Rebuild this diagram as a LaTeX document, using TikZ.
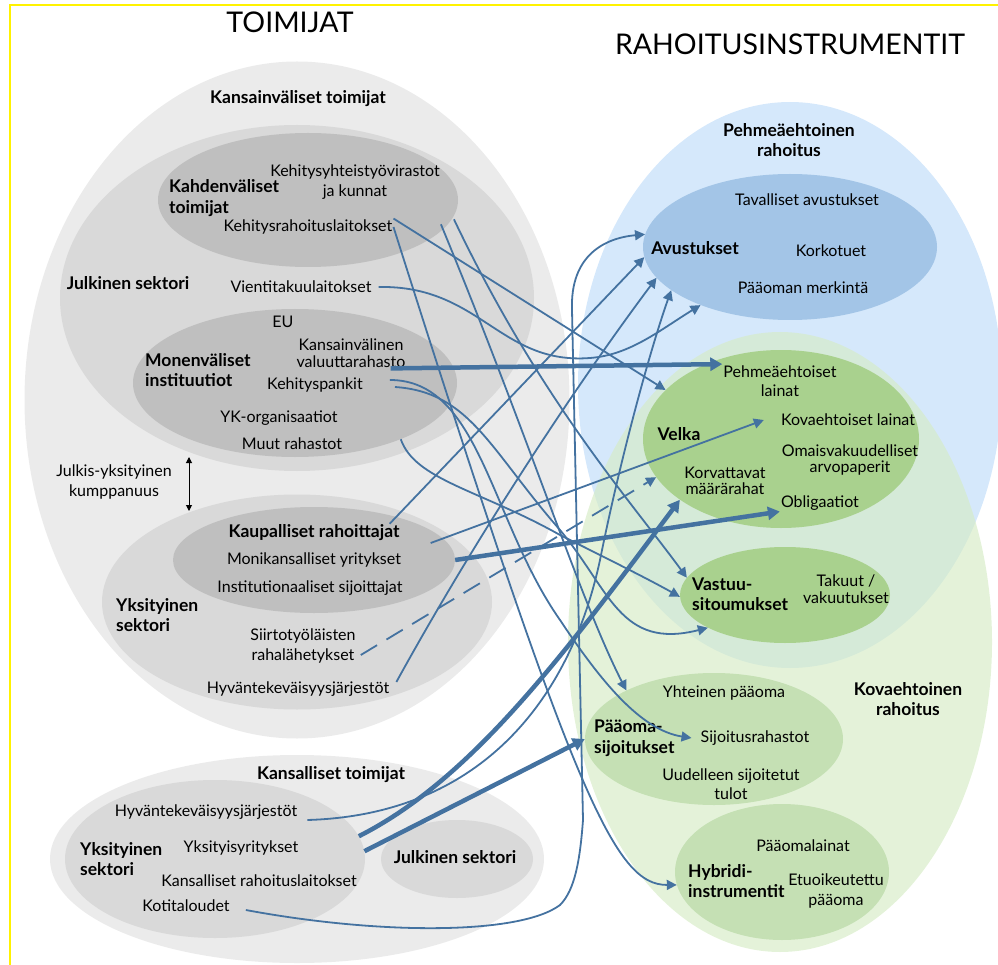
\documentclass[tikz,border=0pt]{standalone}
\usepackage{fontspec}
\setmainfont{Lato}
\usetikzlibrary{arrows.meta,shapes.geometric}

\definecolor{gouter}{HTML}{EBEBEB}
\definecolor{gmid}{HTML}{D9D9D9}
\definecolor{gdark}{HTML}{BFBFBF}
\definecolor{softbg}{HTML}{D5E8FB}
\definecolor{hardbg}{RGB}{214,236,198}
\definecolor{grantbg}{HTML}{A3C5E7}
\definecolor{debtbg}{HTML}{A9D18E}
\definecolor{eqbg}{HTML}{C5E0B4}
\definecolor{flowc}{RGB}{68,114,160}

\begin{document}
\begin{tikzpicture}[x=1pt, y=-1pt,
    blob/.style={ellipse, inner sep=0pt},
    txt/.style={font=\fontsize{16}{19.5}\selectfont, align=center, inner sep=1pt},
    hd/.style={font=\bfseries\fontsize{17.5}{20.5}\selectfont, align=left, inner sep=1pt},
    flow/.style={draw=flowc, line width=1.8pt, -{Triangle[length=10pt,width=10pt]}},
    bigflow/.style={flow, line width=4.5pt, -{Triangle[length=12pt,width=13pt]}},
    dashflow/.style={flow, dash pattern=on 19pt off 11pt}]
\useasboundingbox (0,0) rectangle (998,965);
\draw[yellow, line width=2.2pt] (10,965) -- (10,5) -- (998,5);

% actors
\node[blob, fill=gouter, minimum width=545pt, minimum height=677pt] (intl) at (297,400) {};
\node[blob, fill=gmid, minimum width=474pt, minimum height=346pt] (pub) at (297,298) {};
\node[blob, fill=gdark, minimum width=300pt, minimum height=134pt] (bil) at (308,200) {};
\node[blob, fill=gdark, minimum width=324pt, minimum height=148pt] (multi) at (295,383) {};
\node[blob, fill=gmid, minimum width=390pt, minimum height=215pt] (priv) at (297,602) {};
\node[blob, fill=gdark, minimum width=282pt, minimum height=106pt] (comm) at (314,560) {};
\node[blob, fill=gouter, minimum width=494pt, minimum height=208pt] (natl) at (297,859) {};
\node[blob, fill=gmid, minimum width=300pt, minimum height=158pt] (nprv) at (215,859) {};
\node[blob, fill=gmid, minimum width=152pt, minimum height=78pt] (npub) at (457,859) {};

% instruments
\node[blob, fill=softbg, minimum width=424pt, minimum height=566pt] (soft) at (790,385) {};
\node[blob, fill=hardbg, fill opacity=0.66, minimum width=424pt, minimum height=620pt] (hard) at (780,642) {};
\node[blob, fill=grantbg, minimum width=294pt, minimum height=146pt] (grant) at (790,247) {};
\node[blob, fill=debtbg, minimum width=276pt, minimum height=178pt] (debt) at (781,439) {};
\node[blob, fill=debtbg, minimum width=210pt, minimum height=96pt] (guar) at (785,595) {};
\node[blob, fill=eqbg, minimum width=258pt, minimum height=132pt] (eq) at (714,739) {};
\node[blob, fill=eqbg, minimum width=214pt, minimum height=136pt] (hyb) at (782,872) {};

% titles
\node[font=\fontsize{28.5}{32}\selectfont] (ttl-act) at (290,22) {TOIMIJAT};
\node[font=\fontsize{28.5}{32}\selectfont] (ttl-ins) at (790,44) {RAHOITUSINSTRUMENTIT};

% actor texts
\node[hd, align=center] (intl-t) at (298,99) {Kansainväliset toimijat};
\node[hd, anchor=west] (bil-t) at (168,198) {Kahdenväliset\\toimijat};
\node[txt] (agency) at (355,182) {Kehitysyhteistyövirastot\\ja kunnat};
\node[txt] (dfi) at (308,227) {Kehitysrahoituslaitokset};
\node[hd] (pub-t) at (128,283) {Julkinen sektori};
\node[txt] (eca) at (301,287) {Vientitakuulaitokset};
\node[txt] (eu) at (283,322) {EU};
\node[hd, anchor=west] (multi-t) at (144,370) {Monenväliset\\instituutiot};
\node[txt] (imf) at (351,353) {Kansainvälinen\\[-3pt]valuuttarahasto};
\node[txt] (mdb) at (315,385) {Kehityspankit};
\node[txt] (un) at (279,418) {YK-organisaatiot};
\node[txt] (funds) at (292,444) {Muut rahastot};
\node[txt] (ppp) at (114,482) {Julkis-yksityinen\\kumppanuus};
\node[hd, align=center] (comm-t) at (314,533) {Kaupalliset rahoittajat};
\node[txt] (mnc) at (314,560) {Monikansalliset yritykset};
\node[txt] (inst) at (310,588) {Institutionaaliset sijoittajat};
\node[hd, anchor=west] (priv-t) at (115,615) {Yksityinen\\sektori};
\node[txt] (remit) at (303,646) {Siirtotyöläisten\\rahalähetykset};
\node[txt] (ngo) at (298,689) {Hyväntekeväisyysjärjestöt};
\node[hd, align=center] (natl-t) at (331,775) {Kansalliset toimijat};
\node[txt] (nngo) at (206,812) {Hyväntekeväisyysjärjestöt};
\node[hd, anchor=west] (nprv-t) at (79,859) {Yksityinen\\sektori};
\node[txt] (firms) at (241,848) {Yksityisyritykset};
\node[txt] (nfin) at (259,881) {Kansalliset rahoituslaitokset};
\node[txt] (hh) at (186,906) {Kotitaloudet};
\node[hd, align=center] (npub-t) at (455,857) {Julkinen sektori};

% instrument texts
\node[hd, align=center] (soft-t) at (789,140) {Pehmeäehtoinen\\rahoitus};
\node[txt] (grants) at (807,200) {Tavalliset avustukset};
\node[hd, align=center] (grant-t) at (695,248) {Avustukset};
\node[txt] (intsub) at (831,251) {Korkotuet};
\node[txt] (capsub) at (803,288) {Pääoman merkintä};
\node[txt] (softloan) at (780,381) {Pehmeäehtoiset\\lainat};
\node[hd, align=center] (debt-t) at (679,434) {Velka};
\node[txt] (hardloan) at (848,420) {Kovaehtoiset lainat};
\node[txt] (secur) at (850,460) {Omaisvakuudelliset\\[-3pt]arvopaperit};
\node[txt] (repay) at (725,481) {Korvattavat\\[-3pt]määrärahat};
\node[txt] (bonds) at (820,503) {Obligaatiot};
\node[hd, anchor=west] (guar-t) at (691,594) {Vastuu-\\sitoumukset};
\node[txt] (insur) at (846,589) {Takuut /\\[-2pt]vakuutukset};
\node[hd, align=center] (hard-t) at (908,699) {Kovaehtoinen\\rahoitus};
\node[txt] (common) at (724,693) {Yhteinen pääoma};
\node[hd, anchor=west] (eq-t) at (593,738) {Pääoma-\\sijoitukset};
\node[txt] (invf) at (755,738) {Sijoitusrahastot};
\node[txt] (reinv) at (731,784) {Uudelleen sijoitetut\\tulot};
\node[txt] (subl) at (803,846) {Pääomalainat};
\node[hd, anchor=west] (hyb-t) at (687,881) {Hybridi-\\instrumentit};
\node[txt] (pref) at (836,891) {Etuoikeutettu\\pääoma};

% public-private
\coordinate (pppa) at (189,457);
\coordinate (pppb) at (189,511);
\draw[{Triangle[length=6pt,width=6pt]}-{Triangle[length=6pt,width=6pt]}, line width=1pt] (pppa) -- (pppb);

% flows from bilateral
\draw[flow] (dfi.north east) -- (debt.157);
\draw[flow] (dfi.east) .. controls (575,800) and (615,885) .. (hyb.187);
\draw[flow] ([yshift=-24pt]agency.south east) .. controls (530,440) and (580,600) .. (eq.151);
\draw[flow] ([xshift=13pt,yshift=-19pt]agency.south east) .. controls (540,400) and (630,500) .. (guar.170);
\draw[flow] ([xshift=6pt]eca.east) .. controls (480,285) and (500,365) .. (590,358) .. controls (630,355) and (660,330) .. (grant.213);
% flows from multilateral
\draw[bigflow] ([xshift=-16pt]imf.south east) -- (softloan.north west);
\draw[flow] ([xshift=26pt,yshift=5pt]mdb.east) .. controls (480,380) and (490,520) .. (560,620) .. controls (600,680) and (640,730) .. ([xshift=-8pt]invf.west);
\draw[flow] ([xshift=31pt,yshift=-2pt]mdb.east) .. controls (470,392) and (490,450) .. (560,530) .. controls (610,590) and (620,650) .. (guar.203);
\draw[flow] (multi.-28) .. controls (415,480) and (480,490) .. (560,535) .. controls (610,560) and (650,580) .. (guar.181);
% flows from private
\draw[flow] ([xshift=-11pt]comm-t.north east) -- (grant.184);
\draw[flow] ([xshift=30pt,yshift=-10pt]comm-t.east) -- ([xshift=-16pt]hardloan.west);
\draw[bigflow] (comm.east) -- (bonds.south west);
\draw[dashflow] ([xshift=4pt,yshift=-9pt]remit.east) -- (debt.197);
\draw[flow] ([xshift=6pt,yshift=7pt]ngo.east) .. controls (480,530) and (580,380) .. (grant.193);
% flows from national
\draw[flow] ([xshift=9pt,yshift=-8pt]nngo.east) .. controls (480,815) and (570,700) .. (600,560) .. controls (620,460) and (650,350) .. (grant.200);
\draw[bigflow] (nprv.9) .. controls (470,780) and (560,660) .. (debt.211);
\draw[bigflow] (nprv.3) -- (eq.180);
\draw[flow] ([xshift=15pt,yshift=-4pt]hh.east) .. controls (380,935) and (520,935) .. (560,905) .. controls (575,890) and (580,860) .. (583,820) -- (572,310) .. controls (570,255) and (605,238) .. (grant.175);
\end{tikzpicture}
\end{document}
